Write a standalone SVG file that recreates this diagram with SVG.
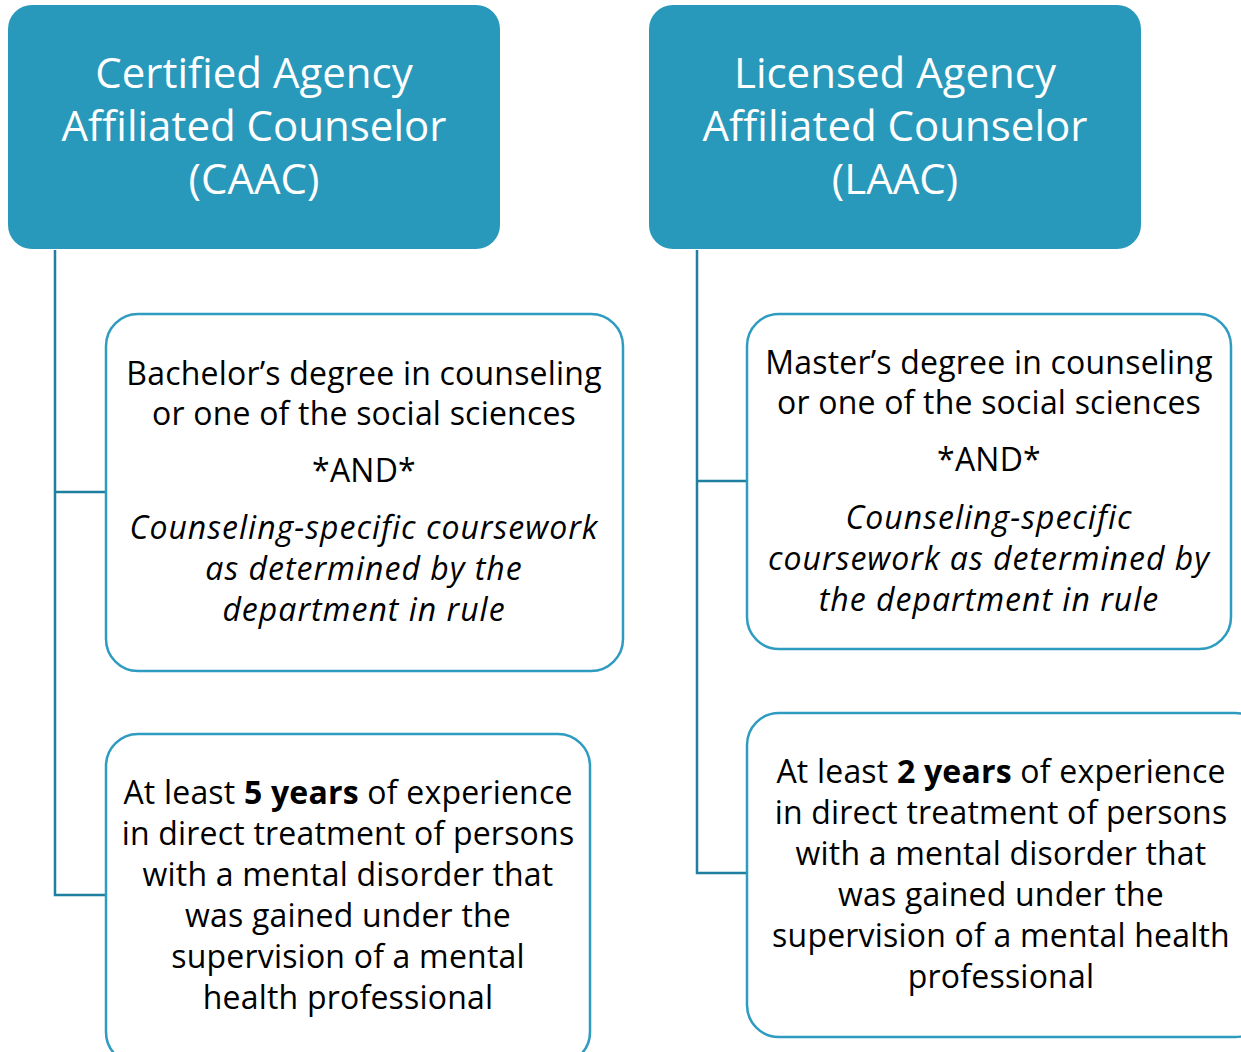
<svg xmlns="http://www.w3.org/2000/svg" width="1241" height="1052" viewBox="0 0 1241 1052">
<style>
.hdr{fill:#2899BB}
.ht{font-family:"Open Sans",Lato,sans-serif;font-size:42px;fill:#fff;text-anchor:middle}
.bx{fill:#fff;stroke:#2E9BC0;stroke-width:2.5}
.bt{font-family:"Open Sans",Lato,sans-serif;font-size:32px;letter-spacing:0.2px;fill:#000;text-anchor:middle}
.it{font-style:italic;letter-spacing:1px}
.b{font-weight:bold}
.cn{fill:none;stroke:#1F7FA0;stroke-width:2.5}
</style>
<rect width="1241" height="1052" fill="#fff"/>
<g id="connectors">
<polyline class="cn" points="55,250 55,895 106,895"/>
<line class="cn" x1="55" y1="492" x2="106" y2="492"/>
<polyline class="cn" points="697,250 697,873 747,873"/>
<line class="cn" x1="697" y1="481" x2="747" y2="481"/>
</g>
<g id="caac">
<rect class="hdr" x="8" y="5" width="492" height="244" rx="24"/>
<text class="ht" x="254" y="88">Certified Agency</text>
<text class="ht" x="254" y="141">Affiliated Counselor</text>
<text class="ht" x="254" y="194">(CAAC)</text>
</g>
<g id="laac">
<rect class="hdr" x="649" y="5" width="492" height="244" rx="24"/>
<text class="ht" x="895" y="88">Licensed Agency</text>
<text class="ht" x="895" y="141">Affiliated Counselor</text>
<text class="ht" x="895" y="194">(LAAC)</text>
</g>
<g id="caac-edu">
<rect class="bx" x="106" y="314" width="517" height="357" rx="32"/>
<text class="bt" x="364" y="385">Bachelor’s degree in counseling</text>
<text class="bt" x="364" y="425">or one of the social sciences</text>
<text class="bt" x="364" y="482">*AND*</text>
<text class="bt it" x="364" y="539">Counseling-specific coursework</text>
<text class="bt it" x="364" y="580">as determined by the</text>
<text class="bt it" x="364" y="621">department in rule</text>
</g>
<g id="caac-exp">
<rect class="bx" x="106" y="734" width="484" height="330" rx="32"/>
<text class="bt" x="348" y="804">At least <tspan class="b">5 years</tspan> of experience</text>
<text class="bt" x="348" y="845">in direct treatment of persons</text>
<text class="bt" x="348" y="886">with a mental disorder that</text>
<text class="bt" x="348" y="927">was gained under the</text>
<text class="bt" x="348" y="968">supervision of a mental</text>
<text class="bt" x="348" y="1009">health professional</text>
</g>
<g id="laac-edu">
<rect class="bx" x="747" y="314" width="484" height="335" rx="32"/>
<text class="bt" x="989" y="374">Master’s degree in counseling</text>
<text class="bt" x="989" y="414">or one of the social sciences</text>
<text class="bt" x="989" y="471">*AND*</text>
<text class="bt it" x="989" y="529">Counseling-specific</text>
<text class="bt it" x="989" y="570">coursework as determined by</text>
<text class="bt it" x="989" y="611">the department in rule</text>
</g>
<g id="laac-exp">
<rect class="bx" x="747" y="713" width="520" height="324" rx="32"/>
<text class="bt" x="1001" y="783">At least <tspan class="b">2 years</tspan> of experience</text>
<text class="bt" x="1001" y="824">in direct treatment of persons</text>
<text class="bt" x="1001" y="865">with a mental disorder that</text>
<text class="bt" x="1001" y="906">was gained under the</text>
<text class="bt" x="1001" y="947">supervision of a mental health</text>
<text class="bt" x="1001" y="988">professional</text>
</g>
</svg>
